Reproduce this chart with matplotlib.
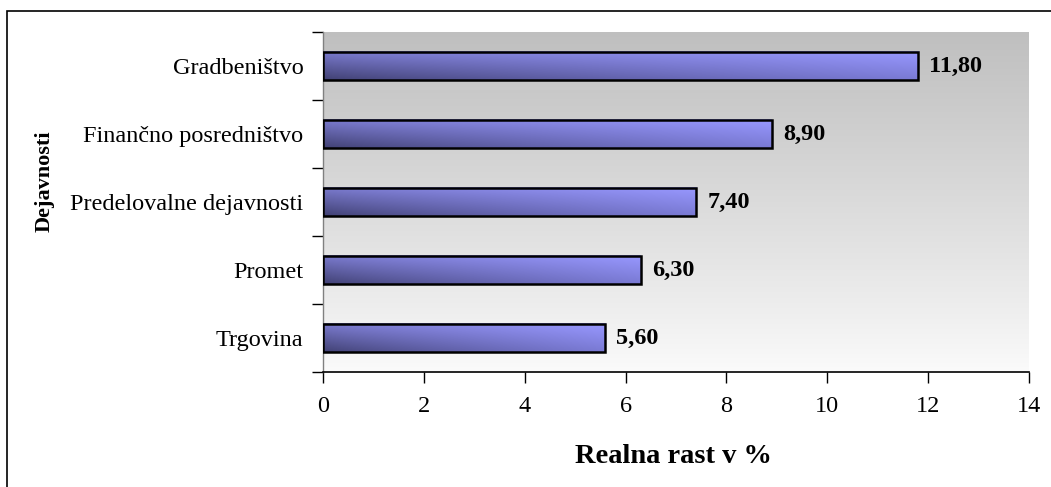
import numpy as np
import matplotlib
matplotlib.use('Agg')
import matplotlib.pyplot as plt
from matplotlib.patches import Rectangle

# --- Dados ---
dejavnosti = ['Trgovina', 'Promet', 'Predelovalne dejavnosti',
              'Finančno posredništvo', 'Gradbeništvo']
rast = [5.6, 6.3, 7.4, 8.9, 11.8]
oznake = ['5,60', '6,30', '7,40', '8,90', '11,80']
x_ticks = [0, 2, 4, 6, 8, 10, 12, 14]

plt.rcParams['font.family'] = ['Liberation Serif', 'DejaVu Serif']

fig = plt.figure(figsize=(10.51, 4.87), dpi=100)
ax = fig.add_axes([323 / 1051, 1 - 372 / 487, (1029 - 323) / 1051, (372 - 32) / 487])

# moldura da figura (só topo e esquerda aparecem)
fig.patches.append(Rectangle((7 / 1051, -0.1), 1.2, 1 - 11 / 487 + 0.1,
                             transform=fig.transFigure, fill=False,
                             edgecolor='black', linewidth=1.2))

n = len(dejavnosti)
y = np.arange(n)
xmax = 14

# fundo com gradiente vertical (cinza em cima, quase branco em baixo)
g = np.linspace(0, 1, 256).reshape(-1, 1)
topo = np.array([0.75, 0.75, 0.75])
base = np.array([0.985, 0.985, 0.985])
fundo = base + (topo - base) * g ** 0.9
fundo = np.repeat(fundo[:, None, :], 2, axis=1)
ax.imshow(fundo, extent=[0, xmax, -0.5, n - 0.5], origin='lower',
          aspect='auto', zorder=0, interpolation='bilinear')

# barras com gradiente nos 4 cantos (esq-baixo, esq-cima, dir-baixo, dir-cima)
eb = np.array([65, 65, 115]) / 255
ec = np.array([122, 122, 205]) / 255
db = np.array([122, 122, 212]) / 255
dc = np.array([152, 152, 255]) / 255
gx = np.linspace(0, 1, 200)[None, :, None] ** 0.8
gy = np.linspace(0, 1, 40)[:, None, None]
grad = (eb * (1 - gx) * (1 - gy) + ec * (1 - gx) * gy
        + db * gx * (1 - gy) + dc * gx * gy)

h = 0.42
for yi, v, lab in zip(y, rast, oznake):
    ax.imshow(grad, extent=[0, v, yi - h / 2, yi + h / 2], origin='lower',
              aspect='auto', zorder=2, interpolation='bilinear')
    ax.add_patch(Rectangle((0, yi - h / 2), v, h, fill=False,
                           edgecolor='black', linewidth=1.8, zorder=3))
    ax.text(v + 0.22, yi, lab, ha='left', va='center', fontsize=17.5,
            fontweight='bold', zorder=4)

ax.set_xlim(0, xmax)
ax.set_ylim(-0.5, n - 0.5)
ax.set_xticks(x_ticks)
ax.set_xticklabels([str(v) for v in x_ticks], fontsize=17.5)
ax.set_yticks(y)
ax.set_yticklabels(dejavnosti, fontsize=17.5)
ax.set_yticks(np.arange(-0.5, n, 1), minor=True)

ax.tick_params(axis='y', which='major', length=0, pad=14)
ax.tick_params(axis='y', which='minor', length=8, width=1, direction='out', color='black')
ax.tick_params(axis='x', which='major', length=8, width=1, direction='out', pad=9)

for s in ['top', 'right']:
    ax.spines[s].set_visible(False)
ax.spines['bottom'].set_linewidth(1.2)
ax.spines['left'].set_color('#808080')
ax.spines['left'].set_linewidth(1.0)

fig.text(673 / 1051, 1 - 463 / 487, 'Realna rast v %', ha='center', va='baseline',
         fontsize=20.5, fontweight='bold')
fig.text(45 / 1051, 1 - 181 / 487, 'Dejavnosti', ha='center', va='center',
         rotation=90, fontsize=16, fontweight='bold')

fig.savefig('out.png', dpi=100)
